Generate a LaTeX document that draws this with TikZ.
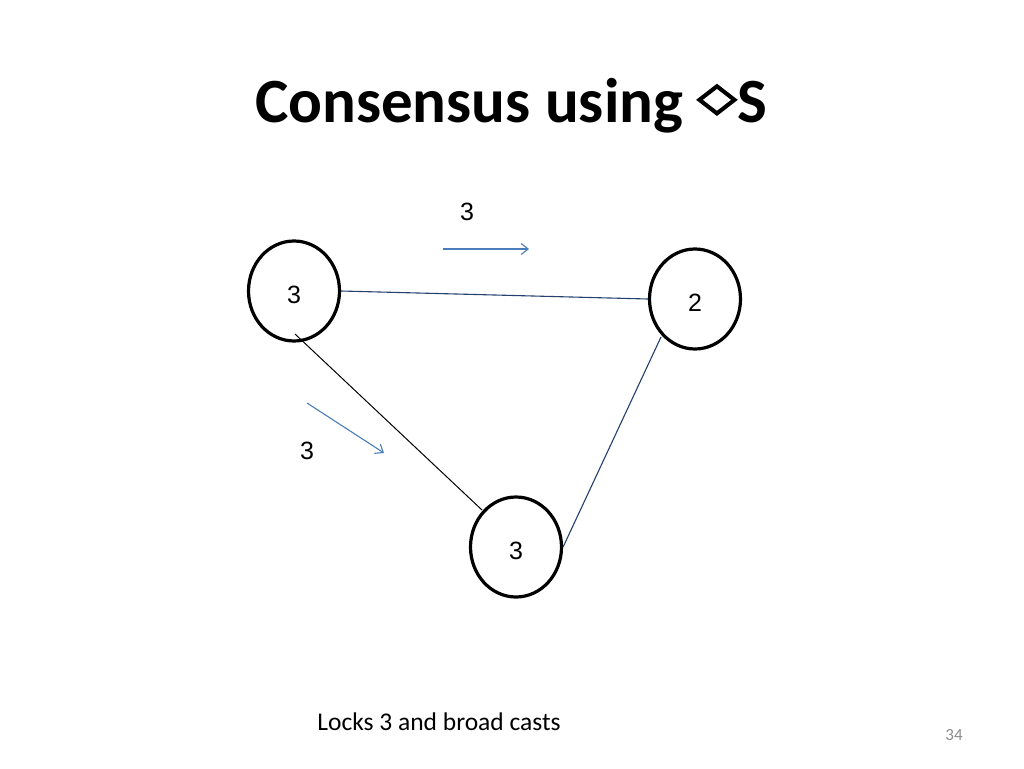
\documentclass[tikz,border=0pt]{standalone}
\usepackage{fontspec}
\setmainfont{Carlito}
\newfontfamily\arialfont{Liberation Sans}
\newfontfamily\symfont[FakeBold=4]{DejaVu Sans}
\usetikzlibrary{shapes.geometric,arrows.meta,calc}
\definecolor{edgeblue}{HTML}{24406F}
\definecolor{arrowblue}{HTML}{4A7EBB}
\definecolor{pagegrey}{HTML}{8C8C8C}
\begin{document}
\begin{tikzpicture}[x=1pt,y=-1pt,
  proc/.style={ellipse,draw=black,line width=3.2pt,minimum width=91pt,minimum height=100pt,inner sep=0pt,text height=24pt,text depth=0pt,font=\arialfont\fontsize{25}{28}\selectfont},
  link/.style={draw=edgeblue,line width=1.1pt},
  plainlink/.style={draw=black,line width=1pt},
  msg/.style={draw=arrowblue,line width=1.1pt,-{Straight Barb[length=7pt,width=11pt]}},
  msglabel/.style={font=\arialfont\fontsize{25}{28}\selectfont,inner sep=0pt}]
\useasboundingbox (0,0) rectangle (1024,768);
\fill[white] (0,0) rectangle (1024,768);
\node[font=\bfseries\fontsize{63}{72}\selectfont,inner sep=0pt,anchor=base] (title) at (511,122)
  {Consensus using {\raisebox{0.19em}{\resizebox{0.62em}{0.4em}{\symfont ◇}}}\kern0.01emS};
\node[proc] (A) at (294,291) {3};
\node[proc] (B) at (695,299) {2};
\node[proc] (C) at (516,547) {3};
\coordinate (Ain) at ($(A.center)+(1,43)$);
\coordinate (Cin) at ($(C.center)+(-34,-37)$);
\coordinate (Bsw) at ($(B.center)+(-34,38)$);
\draw[link] (A.east) -- (B.west);
\draw[link] (Bsw) -- (C.east);
\draw[plainlink] (Ain) -- (Cin);
\coordinate (m1s) at (443,249);
\coordinate (m1e) at (529,249);
\coordinate (m2s) at (307,403);
\coordinate (m2e) at (384,453);
\draw[msg] (m1s) -- (m1e);
\draw[msg] (m2s) -- (m2e);
\node[msglabel] (l1) at (467,212) {3};
\node[msglabel] (l2) at (307,451) {3};
\node[font=\fontsize{25.5}{30}\selectfont,inner sep=0pt] (note) at (439,722) {Locks 3 and broad casts};
\node[font=\fontsize{17}{20}\selectfont,text=pagegrey,inner sep=0pt] (page) at (954,735) {34};
\end{tikzpicture}
\end{document}
